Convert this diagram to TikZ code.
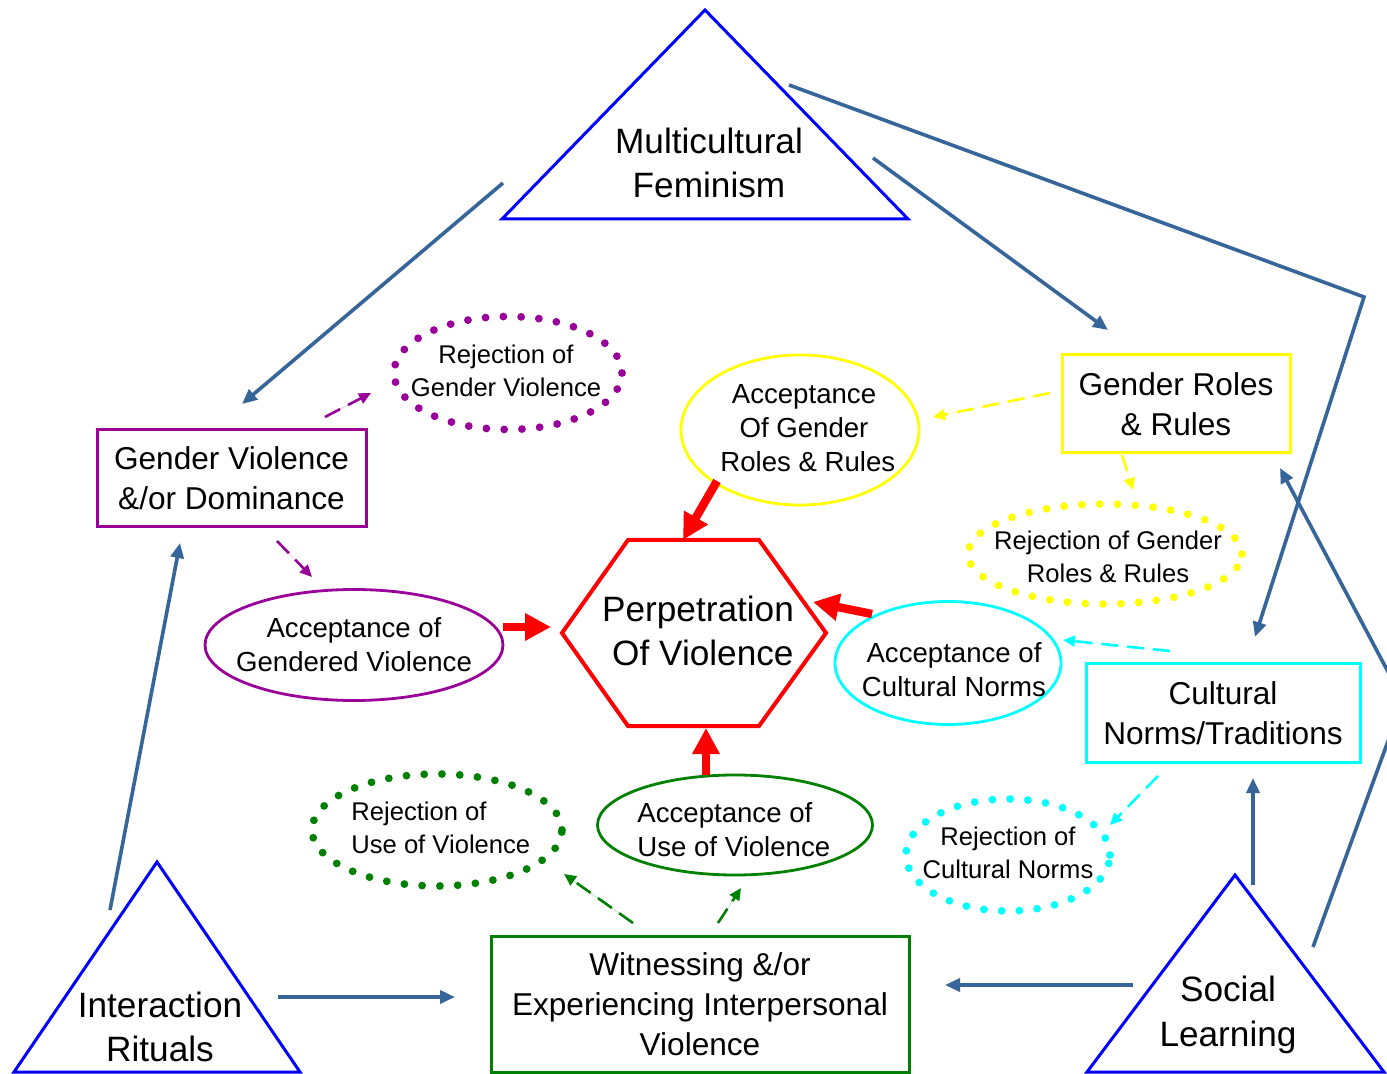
\documentclass[tikz,border=0pt]{standalone}
\usepackage{fontspec}
\setmainfont{Liberation Sans}
\usetikzlibrary{arrows.meta,shapes.geometric}
\definecolor{steel}{RGB}{54,101,153}
\definecolor{purp}{RGB}{153,0,153}
\definecolor{yel}{RGB}{255,255,0}
\definecolor{cyn}{RGB}{0,255,255}
\definecolor{grn}{RGB}{0,128,0}
\definecolor{tri}{RGB}{0,0,255}
\definecolor{hexred}{RGB}{255,0,0}
\begin{document}
\begin{tikzpicture}[x=0.5pt,y=-0.5pt,
  big/.style={font=\fontsize{17.6}{22.3}\selectfont, align=center, inner sep=0pt},
  boxtxt/.style={font=\fontsize{15.8}{20}\selectfont, align=center, inner sep=0pt},
  acctxt/.style={font=\fontsize{13.8}{17}\selectfont, align=center, inner sep=0pt},
  rejtxt/.style={font=\fontsize{12.8}{16.3}\selectfont, align=center, inner sep=0pt},
  tripath/.style={draw=tri, line width=1.5pt, line join=miter},
  rectbox/.style={rectangle, line width=1.5pt, inner sep=0pt},
  solidell/.style={ellipse, line width=1.4pt, inner sep=0pt},
  dotell/.style={ellipse, line width=3.9pt, dash pattern=on 0pt off 8.9pt, line cap=round, inner sep=0pt},
  bluearrow/.style={draw=steel, line width=1.8pt, line join=miter, -{Triangle[length=7.5pt,width=6.5pt]}},
  dasharrow/.style={line width=1.3pt, dash pattern=on 8.5pt off 4.5pt, -{Triangle[length=6pt,width=5.5pt]}},
  redarrow/.style={draw=hexred, line width=4.2pt, -{Triangle[length=13pt,width=13pt]}},
]
\fill[white] (0,0) rectangle (1387,1074);
\useasboundingbox (0,0) rectangle (1387,1074);

% ---------- triangles ----------
\draw[tripath] (705,10) -- (908,219) -- (502,219) -- cycle;
\node[big] (mft) at (709,163) {Multicultural\\Feminism};
\draw[tripath] (157,862) -- (300,1072) -- (14,1072) -- cycle;
\node[big] (irt) at (160,1027) {Interaction\\Rituals};
\draw[tripath] (1235,875) -- (1384,1072) -- (1087,1072) -- cycle;
\node[big] (slt) at (1228,1015) {Social\\Learning};

% ---------- hexagon ----------
\draw[draw=hexred, line width=2pt, line join=miter] (562,633) -- (628,540) -- (759,540) -- (826,633) -- (759,726) -- (628,726) -- cycle;
\node[big] (hext) at (698,631) {Perpetration\\\ Of Violence};

% ---------- boxes ----------
\node[rectbox, draw=purp, minimum width=134.5pt, minimum height=48.5pt, boxtxt] (gvd) at (231.5,478.5) {Gender Violence\\\&/or Dominance};
\node[rectbox, draw=yel, minimum width=114pt, minimum height=49pt, boxtxt] (grr) at (1176,404) {Gender Roles\\\& Rules};
\node[rectbox, draw=cyn, minimum width=137pt, minimum height=49pt, boxtxt] (cnt) at (1223,713) {Cultural\\Norms/Traditions};
\node[rectbox, draw=grn, minimum width=209pt, minimum height=68pt, boxtxt] (wit) at (700,1004) {Witnessing \&/or\\Experiencing Interpersonal\\Violence};

% ---------- ellipses ----------
\node[dotell, draw=purp, minimum width=114pt, minimum height=56.5pt] (rgv) at (508,373) {};
\node[rejtxt] (rgvt) at (506,371) {Rejection of\\Gender Violence};
\node[solidell, draw=purp, minimum width=149pt, minimum height=55.5pt] (agv) at (354,645) {};
\node[acctxt] (agvt) at (354,645) {Acceptance of\\Gendered Violence};
\node[solidell, draw=yel, minimum width=119pt, minimum height=75pt] (agr) at (800,430) {};
\node[acctxt] (agrt) at (804,428) {Acceptance\\Of Gender\\\ Roles \& Rules};
\node[dotell, draw=yel, minimum width=137pt, minimum height=50pt] (rgr) at (1105,554) {};
\node[rejtxt] (rgrt) at (1108,557) {Rejection of Gender\\Roles \& Rules};
\node[solidell, draw=cyn, minimum width=113pt, minimum height=61.5pt] (acn) at (948,663) {};
\node[acctxt] (acnt) at (954,670) {Acceptance of\\Cultural Norms};
\node[dotell, draw=cyn, minimum width=102pt, minimum height=56pt] (rcn) at (1008,855) {};
\node[rejtxt] (rcnt) at (1008,853) {Rejection of\\Cultural Norms};
\node[solidell, draw=grn, minimum width=137.5pt, minimum height=50pt] (auv) at (735,825) {};
\node[acctxt, align=left, anchor=west] (auvt) at (637,830) {Acceptance of\\Use of Violence};
\node[dotell, draw=grn, minimum width=125pt, minimum height=56pt] (ruv) at (437,830) {};
\node[rejtxt, align=left, anchor=west] (ruvt) at (351,828) {Rejection of\\Use of Violence};

% ---------- coordinates ----------
\coordinate (a1s) at (503,183); \coordinate (a1e) at (242,404);
\coordinate (a2s) at (873,158); \coordinate (a2e) at (1108,330);
\coordinate (a3s) at (789,85);  \coordinate (a3m) at (1364,297); \coordinate (a3e) at (1255,637);
\coordinate (a4s) at (1313,947); \coordinate (a4m) at (1403,700); \coordinate (a4e) at (1280,468);
\coordinate (a5s) at (110,910); \coordinate (a5e) at (180,543);
\coordinate (a6s) at (278,997); \coordinate (a6e) at (455,997);
\coordinate (a7s) at (1133,985); \coordinate (a7e) at (945,985);
\coordinate (a8s) at (1253,885); \coordinate (a8e) at (1253,778);

\coordinate (p1s) at (325,417); \coordinate (p1e) at (371,393);
\coordinate (p2s) at (277,541); \coordinate (p2e) at (312,577);
\coordinate (y1s) at (1050,393); \coordinate (y1e) at (933,417);
\coordinate (y2s) at (1122,455); \coordinate (y2e) at (1133,490);
\coordinate (c1s) at (1170,651); \coordinate (c1e) at (1063,640);
\coordinate (c2s) at (1158,776); \coordinate (c2e) at (1110,825);
\coordinate (g1s) at (633,923); \coordinate (g1e) at (564,874);
\coordinate (g2s) at (718,923); \coordinate (g2e) at (741,888);

\coordinate (r1s) at (717,481); \coordinate (r1e) at (683,540);
\coordinate (r2s) at (503,627); \coordinate (r2e) at (551,627);
\coordinate (r3s) at (872,614); \coordinate (r3e) at (813,602);
\coordinate (r4s) at (706,775); \coordinate (r4e) at (706,728);

% ---------- blue connectors ----------
\draw[bluearrow] (a1s) -- (a1e);
\draw[bluearrow] (a2s) -- (a2e);
\draw[bluearrow] (a3s) -- (a3m) -- (a3e);
\begin{scope}
  \clip (0,0) rectangle (1387,1074);
  \draw[bluearrow] (a4s) -- (a4m) -- (a4e);
\end{scope}
\draw[bluearrow] (a5s) -- (a5e);
\draw[bluearrow] (a6s) -- (a6e);
\draw[bluearrow] (a7s) -- (a7e);
\draw[bluearrow] (a8s) -- (a8e);

% ---------- dashed connectors ----------
\draw[dasharrow, draw=purp, fill=purp] (p1s) -- (p1e);
\draw[dasharrow, draw=purp, fill=purp] (p2s) -- (p2e);
\draw[dasharrow, draw=yel, fill=yel] (y1s) -- (y1e);
\draw[dasharrow, draw=yel, fill=yel] (y2s) -- (y2e);
\draw[dasharrow, draw=cyn, fill=cyn] (c1s) -- (c1e);
\draw[dasharrow, draw=cyn, fill=cyn] (c2s) -- (c2e);
\draw[dasharrow, draw=grn, fill=grn] (g1s) -- (g1e);
\draw[dasharrow, draw=grn, fill=grn] (g2s) -- (g2e);

% ---------- red connectors ----------
\draw[redarrow] (r1s) -- (r1e);
\draw[redarrow] (r2s) -- (r2e);
\draw[redarrow] (r3s) -- (r3e);
\draw[redarrow] (r4s) -- (r4e);
\end{tikzpicture}
\end{document}
